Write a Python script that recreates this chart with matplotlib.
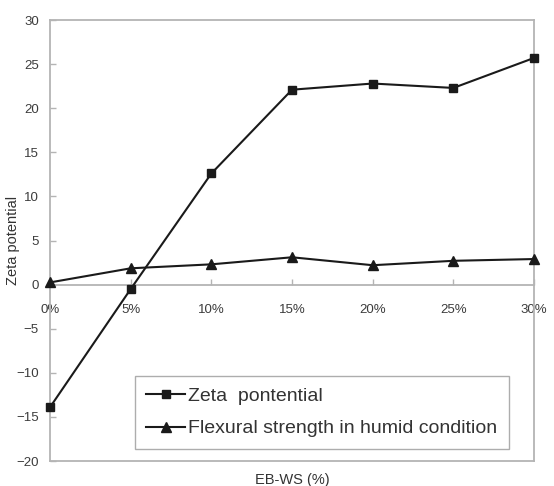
import numpy as np
import matplotlib
matplotlib.use("Agg")
from matplotlib import pyplot as plt

plt.rcParams['font.family'] = ['Liberation Sans', 'DejaVu Sans']

categories = ['0%', '5%', '10%', '15%', '20%', '25%', '30%']
zeta = [-13.9, -0.5, 12.6, 22.1, 22.8, 22.3, 25.7]
flexural = [0.25, 1.85, 2.3, 3.1, 2.2, 2.7, 2.9]

fig = plt.figure(figsize=(5.54, 4.86), dpi=100)
ax = fig.add_axes([0.0903, 0.0514, 0.8736, 0.9074])

x = np.arange(len(categories))
ax.plot(x, zeta, color='#1a1a1a', lw=1.5, marker='s', ms=6,
        label='Zeta  pontential', clip_on=False, zorder=3)
ax.plot(x, flexural, color='#1a1a1a', lw=1.5, marker='^', ms=6.5,
        label='Flexural strength in humid condition', clip_on=False, zorder=3)

ax.set_xlim(0, len(categories) - 1)
ax.set_ylim(-20, 30)
ax.set_yticks(np.arange(-20, 31, 5))
ax.set_yticklabels([str(v).replace('-', '\u2212') for v in range(-20, 31, 5)])
ax.set_xticks(x)
ax.set_xticklabels(categories)

grey = '#b4b4b4'
for s in ['top', 'right', 'left', 'bottom']:
    ax.spines[s].set_color(grey)
    ax.spines[s].set_linewidth(1.3)
ax.spines['bottom'].set_position(('data', 0))
ax.axhline(-20, color=grey, lw=1.3, clip_on=False, zorder=1)

ax.tick_params(axis='both', direction='in', colors=grey,
               labelcolor='#3c3c3c', labelsize=9.5)
ax.tick_params(axis='y', length=4, width=1, pad=8)
ax.tick_params(axis='x', length=4, width=1, pad=14)

ax.set_ylabel('Zeta potential', fontsize=10.5, color='#333333')
ax.yaxis.set_label_coords(-0.062, 0.5)
fig.text(0.527, 0.027, 'EB-WS (%)', fontsize=10.5, color='#333333',
         ha='center', va='top')

leg = ax.legend(loc='lower right', bbox_to_anchor=(0.948, 0.027),
                fontsize=14, frameon=True, fancybox=False,
                handlelength=2.0, handletextpad=0.15, borderpad=0.6,
                labelspacing=0.75, borderaxespad=0)
leg.get_frame().set_edgecolor('#999999')
leg.get_frame().set_linewidth(1)
for t in leg.get_texts():
    t.set_color('#333333')

fig.savefig('out.png', dpi=100)
